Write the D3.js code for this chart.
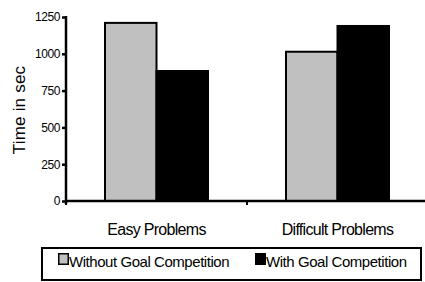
<!DOCTYPE html>
<html lang="en">
<head>
<meta charset="utf-8">
<title>Time in sec</title>
<script src="https://d3js.org/d3.v7.min.js"></script>
<style>
  body { margin: 0; background: #fff; }
  text { font-family: "Liberation Sans", Arial, sans-serif; fill: #000; }
</style>
</head>
<body>
<script>
  var categories = ["Easy Problems", "Difficult Problems"];
  var seriesNames = ["Without Goal Competition", "With Goal Competition"];
  var withoutGoal = [1210, 1014];
  var withGoal = [883, 1189];
  var yTicks = [0, 250, 500, 750, 1000, 1250];
  var colors = ["#c0c0c0", "#000000"];

  var w = 425, h = 282;
  var mLeft = 66, mRight = 428, mTop = 17, mBottom = 201;

  var svg = d3.select("body").append("svg")
      .attr("width", w).attr("height", h);

  var x0 = d3.scaleBand().domain(categories).range([mLeft, mRight]);
  var x1 = d3.scaleBand().domain(seriesNames).range([39, 142]);
  var y = d3.scaleLinear().domain([0, 1250]).range([mBottom, mTop]);

  var rows = categories.map(function(c, i) {
    return { cat: c, vals: [withoutGoal[i], withGoal[i]] };
  });

  // bars
  var groups = svg.selectAll("g.cat").data(rows).enter().append("g")
      .attr("class", "cat")
      .attr("transform", function(d) { return "translate(" + x0(d.cat) + ",0)"; });
  groups.selectAll("rect").data(function(d) {
      return d.vals.map(function(v, j) { return { name: seriesNames[j], v: v, j: j }; });
    }).enter().append("rect")
      .attr("x", function(d) { return x1(d.name); })
      .attr("y", function(d) { return y(d.v); })
      .attr("width", x1.bandwidth())
      .attr("height", function(d) { return mBottom - y(d.v); })
      .attr("fill", function(d) { return colors[d.j]; })
      .attr("stroke", "#000").attr("stroke-width", 2);

  // y axis
  var yAxis = svg.append("g").attr("transform", "translate(" + mLeft + ",0)")
      .call(d3.axisLeft(y).tickValues(yTicks).tickFormat(d3.format("d")).tickSize(4).tickPadding(2));
  yAxis.select(".domain").attr("stroke-width", 2.5).attr("d", "M0," + (mTop - 1) + "V" + (mBottom + 3));
  yAxis.selectAll(".tick line").attr("stroke-width", 2.5);
  yAxis.selectAll(".tick text").style("font-size", "12px").style("letter-spacing", "-0.4px")
      .style("font-family", "'Liberation Sans', Arial, sans-serif");

  // x axis
  var xAxis = svg.append("g").attr("transform", "translate(0," + mBottom + ")");
  xAxis.append("line").attr("x1", mLeft).attr("x2", mRight)
      .attr("stroke", "#000").attr("stroke-width", 2.5);
  xAxis.selectAll("line.tk").data([mLeft, x0(categories[1]), mRight]).enter().append("line")
      .attr("class", "tk")
      .attr("x1", function(d) { return d; }).attr("x2", function(d) { return d; })
      .attr("y1", 0).attr("y2", 4)
      .attr("stroke", "#000").attr("stroke-width", 2);
  xAxis.selectAll("text").data(categories).enter().append("text")
      .attr("x", function(d) { return x0(d) + x0.bandwidth() / 2; })
      .attr("y", 34)
      .attr("text-anchor", "middle")
      .style("font-size", "16px").style("letter-spacing", "-0.7px")
      .text(function(d) { return d; });

  // y label
  svg.append("text")
      .attr("transform", "translate(25,110) rotate(-90)")
      .attr("text-anchor", "middle")
      .style("font-size", "17px").style("letter-spacing", "0.2px")
      .text("Time in sec");

  // legend
  var lg = svg.append("g");
  lg.append("rect").attr("x", 42).attr("y", 248).attr("width", 379).attr("height", 32)
      .attr("fill", "none").attr("stroke", "#000").attr("stroke-width", 2);
  var legX = [58, 255];
  var items = lg.selectAll("g.item").data(seriesNames).enter().append("g")
      .attr("transform", function(d, i) { return "translate(" + legX[i] + ",253)"; });
  items.append("rect").attr("x", 0.75).attr("y", 0.75).attr("width", 9.5).attr("height", 10.5)
      .attr("fill", function(d, i) { return colors[i]; })
      .attr("stroke", "#000").attr("stroke-width", 1.5);
  items.append("text").attr("x", 11).attr("y", 13.5)
      .style("font-size", "15px").style("letter-spacing", "-0.45px")
      .text(function(d) { return d; });
</script>
</body>
</html>
